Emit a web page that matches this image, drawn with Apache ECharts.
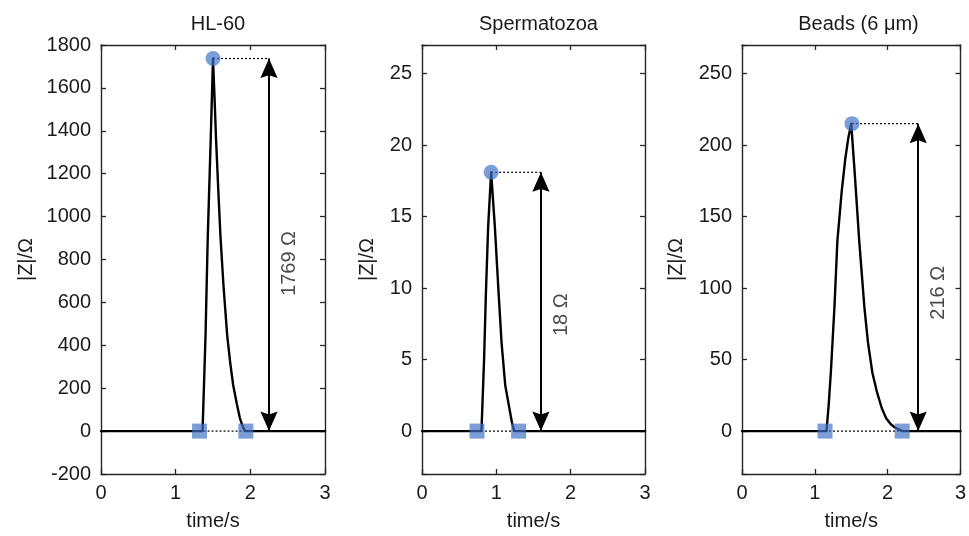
<!DOCTYPE html>
<html><head><meta charset="utf-8">
<script src="https://cdn.jsdelivr.net/npm/echarts@6/dist/echarts.min.js"></script>
<style>html,body{margin:0;padding:0;background:#fff;overflow:hidden}#c{width:969px;height:536px}</style>
</head><body><div id="c"></div>
<script>
// ---- data ----
const panelTitles = ['HL-60', 'Spermatozoa', 'Beads (6 μm)'];
const hl60Curve = [[0,0],[1.36,0],[1.40,446],[1.43,907],[1.47,1368],[1.50,1737],[1.52,1560],[1.54,1368],[1.57,1130],[1.60,907],[1.64,680],[1.69,446],[1.73,320],[1.77,215],[1.82,125],[1.86,61],[1.90,20],[1.93,0],[3,0]];
const spermCurve = [[0,0],[0.80,0],[0.835,5.0],[0.86,9.7],[0.89,14.3],[0.93,18.1],[0.955,16.2],[0.98,14.3],[1.03,9.7],[1.07,6.2],[1.12,3.2],[1.17,1.75],[1.21,0.6],[1.24,0],[3,0]];
const beadsCurve = [[0,0],[1.16,0],[1.19,18],[1.22,41],[1.27,87],[1.31,133],[1.37,168],[1.42,191],[1.46,205],[1.50,215],[1.55,179],[1.61,133],[1.68,87],[1.73,62],[1.79,41],[1.85,28],[1.92,16],[1.98,9],[2.04,5],[2.10,2.5],[2.16,1],[2.20,0],[3,0]];
const peakPoints = [[1.50,1737],[0.93,18.1],[1.51,215]];
const startPoints = [[1.32,0],[0.74,0],[1.14,0]];
const endPoints = [[1.94,0],[1.30,0],[2.20,0]];
const arrowX = [2.25, 1.60, 2.42];
const heightLabels = ['1769 Ω', '18 Ω', '216 Ω'];
const yMin = [-200, -3, -30];
const yMax = [1800, 27, 270];
const yStep = [200, 5, 50];
const xMin = 0, xMax = 3, xStep = 1;
const yName = '|Z|/Ω';
const xName = 'time/s';

// ---- styling / layout ----
const curves = [hl60Curve, spermCurve, beadsCurve];
const FONT = '"Liberation Sans", Arial, sans-serif';
const TXT = '#1a1a1a';
const AX = '#262626';
const BLUE = 'rgba(62,112,198,0.85)';
// square symbol box with the arrow tip at its centre (tip lands on the end point)
const ARROW = 'path://M-17,-17 M17,17 M0,0 L7.5,17 L0,14.5 L-7.5,17 Z';
const gridPos = [{left:101,width:224},{left:422,width:223},{left:742,width:223}];
const nameGaps = [65, 45, 56];

const grid = [], xAxis = [], yAxis = [], series = [], title = [];
gridPos.forEach((g, i) => {
  grid.push({left: g.left, width: g.width, top: 45, height: 433, containLabel: false});
  title.push({text: panelTitles[i], left: g.left + g.width / 2, top: 9, textAlign: 'center',
    textStyle: {fontFamily: FONT, fontSize: 20, fontWeight: 'normal', color: TXT}});
  const axLine = {show: true, onZero: false, lineStyle: {color: AX, width: 1.4}};
  const tick = {show: true, inside: true, length: 5, lineStyle: {color: AX, width: 1.3}};
  xAxis.push({type: 'value', gridIndex: i, min: xMin, max: xMax, interval: xStep, position: 'bottom',
    axisLine: axLine, axisTick: tick, splitLine: {show: false},
    axisLabel: {fontFamily: FONT, fontSize: 20, color: TXT, margin: 9},
    name: xName, nameLocation: 'middle', nameGap: 37,
    nameTextStyle: {fontFamily: FONT, fontSize: 20, color: TXT}});
  xAxis.push({type: 'value', gridIndex: i, min: xMin, max: xMax, interval: xStep, position: 'top',
    axisLine: axLine, axisTick: tick, splitLine: {show: false}, axisLabel: {show: false}});
  const step = yStep[i];
  const yCommon = {type: 'value', gridIndex: i, min: yMin[i], max: yMax[i], splitNumber: (yMax[i]-yMin[i])/step,
    axisLine: axLine, axisTick: tick, splitLine: {show: false}};
  if (yMin[i] % step === 0) yCommon.interval = step;
  yAxis.push(Object.assign({}, yCommon, {position: 'left',
    axisLabel: {fontFamily: FONT, fontSize: 20, color: TXT, margin: 10,
      formatter: v => (Math.abs(v % step) < 1e-9 ? String(v) : '')},
    name: yName, nameLocation: 'middle', nameGap: nameGaps[i],
    nameTextStyle: {fontFamily: FONT, fontSize: 20, color: TXT}}));
  yAxis.push(Object.assign({}, yCommon, {position: 'right', axisLabel: {show: false}}));

  const xi = 2 * i, yi = 2 * i;
  const peak = peakPoints[i];
  // main signal
  series.push({type: 'line', xAxisIndex: xi, yAxisIndex: yi, data: curves[i], symbol: 'none',
    smooth: false, lineStyle: {color: '#000', width: 2.4, join: 'round', cap: 'round'}, z: 3, silent: true,
    markLine: {silent: true, symbol: [ARROW, ARROW], symbolSize: 39,
      lineStyle: {color: '#000', width: 2, type: 'solid'}, itemStyle: {color: '#000'}, label: {show: false},
      data: [[{coord: [arrowX[i], peak[1]]}, {coord: [arrowX[i], 0]}]]}});
  // dotted guides
  series.push({type: 'line', xAxisIndex: xi, yAxisIndex: yi, data: [startPoints[i], endPoints[i]],
    symbol: 'none', lineStyle: {color: '#000', width: 1.2, type: [2, 2]}, z: 2, silent: true});
  series.push({type: 'line', xAxisIndex: xi, yAxisIndex: yi, data: [peak, [arrowX[i], peak[1]]],
    symbol: 'none', lineStyle: {color: '#000', width: 1.2, type: [2, 2]}, z: 2, silent: true});
  // markers
  series.push({type: 'scatter', xAxisIndex: xi, yAxisIndex: yi, data: [peak], symbol: 'circle',
    symbolSize: 15, itemStyle: {color: BLUE}, z: 5, silent: true});
  series.push({type: 'scatter', xAxisIndex: xi, yAxisIndex: yi, data: [startPoints[i], endPoints[i]],
    symbol: 'rect', symbolSize: 15, itemStyle: {color: BLUE}, z: 5, silent: true});
  // height annotation
  series.push({type: 'scatter', xAxisIndex: xi, yAxisIndex: yi,
    data: [[arrowX[i] + 0.28, peak[1] * 0.45]], symbolSize: 0, silent: true, z: 6,
    label: {show: true, position: 'inside', rotate: 90, align: 'center', verticalAlign: 'middle',
      formatter: heightLabels[i], fontFamily: FONT, fontSize: 20, color: TXT}});
});

const chart = echarts.init(document.getElementById('c'), null, {renderer: 'canvas'});
chart.setOption({animation: false, backgroundColor: '#fff', title, grid, xAxis, yAxis, series});
</script></body></html>
